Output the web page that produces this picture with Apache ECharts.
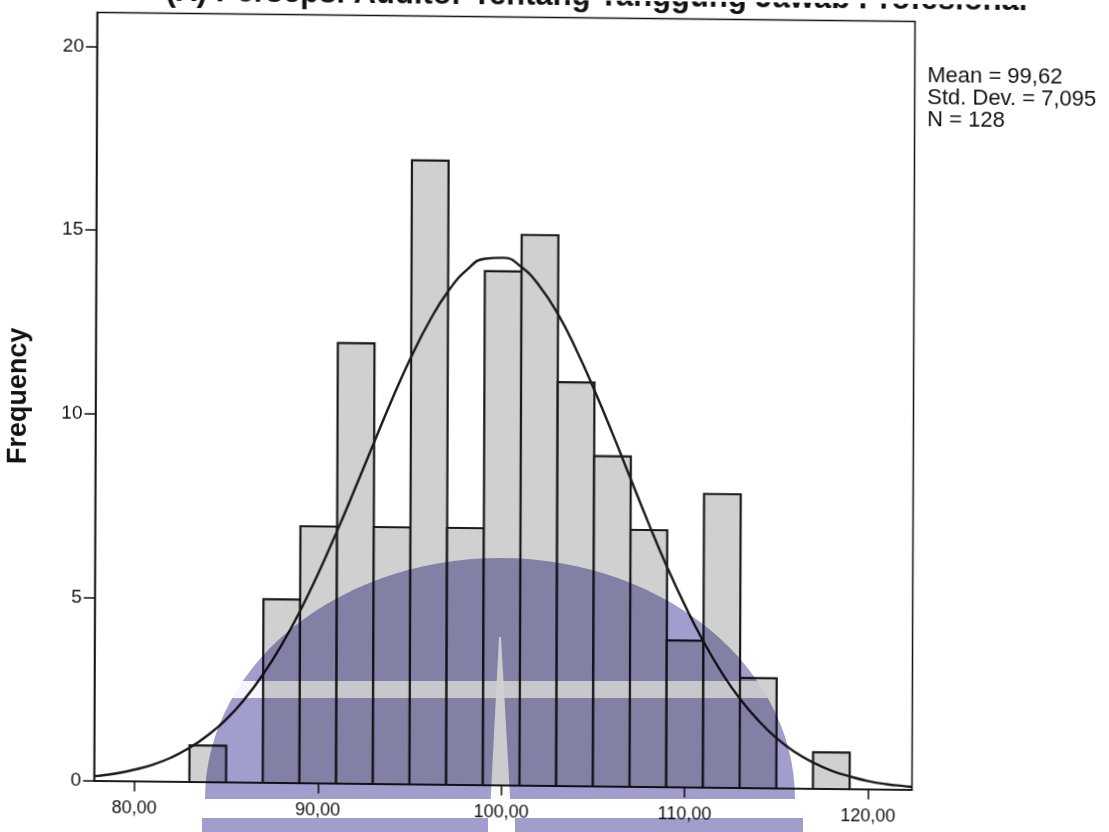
<!DOCTYPE html>
<html>
<head>
<meta charset="utf-8">
<title>Histogram</title>
<script src="https://cdn.jsdelivr.net/npm/echarts@6/dist/echarts.min.js"></script>
<style>
  html, body { margin: 0; padding: 0; background: #fff; }
  #chart, #wm { position: absolute; left: 0; top: 0; width: 1109px; height: 832px; }
  /* the scan is slightly skewed: bottom edge drops to the right, left edge leans a bit */
  #chart { transform: matrix(1, 0.011, -0.004, 1, 0, 0); transform-origin: 554px 416px; }
  #wm { mix-blend-mode: multiply; pointer-events: none; }
</style>
</head>
<body>
<div id="chart"></div>
<div id="wm"></div>
<script>
// histogram bins (left edge) and frequencies
const binStart = [83, 85, 87, 89, 91, 93, 95, 97, 99, 101, 103, 105, 107, 109, 111, 113, 115, 117];
const binWidth = 2;
const counts = [1, 0, 5, 7, 12, 7, 17, 7, 14, 15, 11, 9, 7, 4, 8, 3, 0, 1];

// normal curve
const curveX = [77.8, 78, 79, 80, 81, 82, 83, 84, 85, 86, 87, 88, 89, 90, 91, 92, 93, 94, 95, 96, 97, 98, 99,
  100, 101, 102, 103, 104, 105, 106, 107, 108, 109, 110, 111, 112, 113, 114, 115, 116, 117, 118, 119, 120, 121, 122, 122.4];
const curveY = [0.13, 0.14, 0.21, 0.32, 0.46, 0.66, 0.93, 1.28, 1.72, 2.28, 2.96, 3.76, 4.69, 5.74, 6.88, 8.08, 9.31, 10.52, 11.64, 12.63, 13.44, 14.02, 14.34,
  14.37, 14.12, 13.6, 12.85, 11.89, 10.79, 9.61, 8.38, 7.16, 6.0, 4.94, 3.98, 3.14, 2.43, 1.85, 1.37, 1.0, 0.72, 0.5, 0.35, 0.23, 0.15, 0.1, 0.08];

const xTicks = [80, 90, 100, 110, 120];
const statsLines = ['Mean = 99,62', 'Std. Dev. = 7,095', 'N = 128'];
const titleText = '(X) Persepsi Auditor Tentang Tanggung Jawab Profesional';

const font = 'Liberation Sans, Arial, sans-serif';
const purple = '#a19dcc';

const chart = echarts.init(document.getElementById('chart'));

const barData = binStart.map((s, i) => [s, s + binWidth, counts[i]]);
const lineData = curveX.map((x, i) => [x, curveY[i]]);

chart.setOption({
  backgroundColor: 'transparent',
  animation: false,
  grid: {
    left: 95.5,
    right: 195.5,
    top: 17.5,
    bottom: 46,
    containLabel: false,
    outerBoundsMode: 'none',
    show: true,
    borderColor: '#111',
    borderWidth: 1.5,
  },
  xAxis: {
    type: 'value',
    min: 77.8,
    max: 122.4,
    axisLine: { show: true, onZero: false, lineStyle: { color: '#111', width: 1.5 } },
    axisTick: { show: true, customValues: xTicks, length: 10, lineStyle: { color: '#111', width: 1.5 } },
    axisLabel: {
      customValues: xTicks,
      margin: 18,
      color: '#111',
      fontSize: 18,
      fontFamily: font,
      formatter: v => v.toFixed(2).replace('.', ','),
    },
    splitLine: { show: false },
  },
  yAxis: {
    type: 'value',
    min: 0,
    max: 20.93,
    interval: 5,
    name: 'Frequency',
    nameLocation: 'middle',
    nameGap: 63,
    nameTextStyle: { fontSize: 27, fontWeight: 'bold', color: '#111', fontFamily: font },
    axisLine: { show: true, lineStyle: { color: '#111', width: 1.5 } },
    axisTick: { show: true, length: 11, lineStyle: { color: '#111', width: 1.5 } },
    axisLabel: { margin: 13, color: '#111', fontSize: 19, fontFamily: font, showMaxLabel: false },
    splitLine: { show: false },
  },
  series: [
    {
      type: 'custom',
      data: barData,
      encode: { x: [0, 1], y: 2 },
      renderItem: function (params, api) {
        const n = api.value(2);
        if (!n) return { type: 'group', children: [] };
        const p0 = api.coord([api.value(0), n]);
        const p1 = api.coord([api.value(1), 0]);
        return {
          type: 'rect',
          shape: { x: p0[0], y: p0[1], width: p1[0] - p0[0], height: p1[1] - p0[1] },
          style: { fill: '#d0d0d0', stroke: '#1a1a1a', lineWidth: 2.2 },
        };
      },
      z: 2,
    },
    {
      type: 'line',
      data: lineData,
      smooth: true,
      symbol: 'none',
      lineStyle: { color: '#1a1a1a', width: 2.4 },
      z: 3,
    },
  ],
  graphic: [
    // title, cut off at the top of the page
    {
      type: 'text',
      x: 595,
      y: 11.5,
      style: {
        text: titleText,
        font: 'bold 31px ' + font,
        fill: '#111',
        textAlign: 'center',
        textVerticalAlign: 'bottom',
      },
    },
    // stats box
    {
      type: 'text',
      x: 926,
      y: 61,
      style: {
        text: statsLines.join('\n'),
        font: '22px ' + font,
        lineHeight: 22,
        fill: '#111',
      },
    },
  ],
});

// watermark logo laid over the scan (not skewed)
const domePts = [];
for (let k = 0; k <= 60; k++) {
  const a = Math.PI + (Math.PI * k) / 60;
  domePts.push([500 + 295 * Math.cos(a), 799 + 241 * Math.sin(a)]);
}
const wm = echarts.init(document.getElementById('wm'));
wm.setOption({
  backgroundColor: 'transparent',
  animation: false,
  graphic: [
    { type: 'polygon', z: 1, shape: { points: domePts }, style: { fill: purple } },
    { type: 'rect', z: 1, shape: { x: 202, y: 818, width: 286, height: 14 }, style: { fill: purple } },
    { type: 'rect', z: 1, shape: { x: 515, y: 818, width: 288, height: 14 }, style: { fill: purple } },
    { type: 'rect', z: 2, shape: { x: 200, y: 681, width: 600, height: 17 }, style: { fill: '#fff', opacity: 0.9 } },
    { type: 'polygon', z: 2, shape: { points: [[499, 637], [501, 637], [512, 832], [489, 832]] }, style: { fill: '#fff', opacity: 0.95 } },
  ],
});
</script>
</body>
</html>
